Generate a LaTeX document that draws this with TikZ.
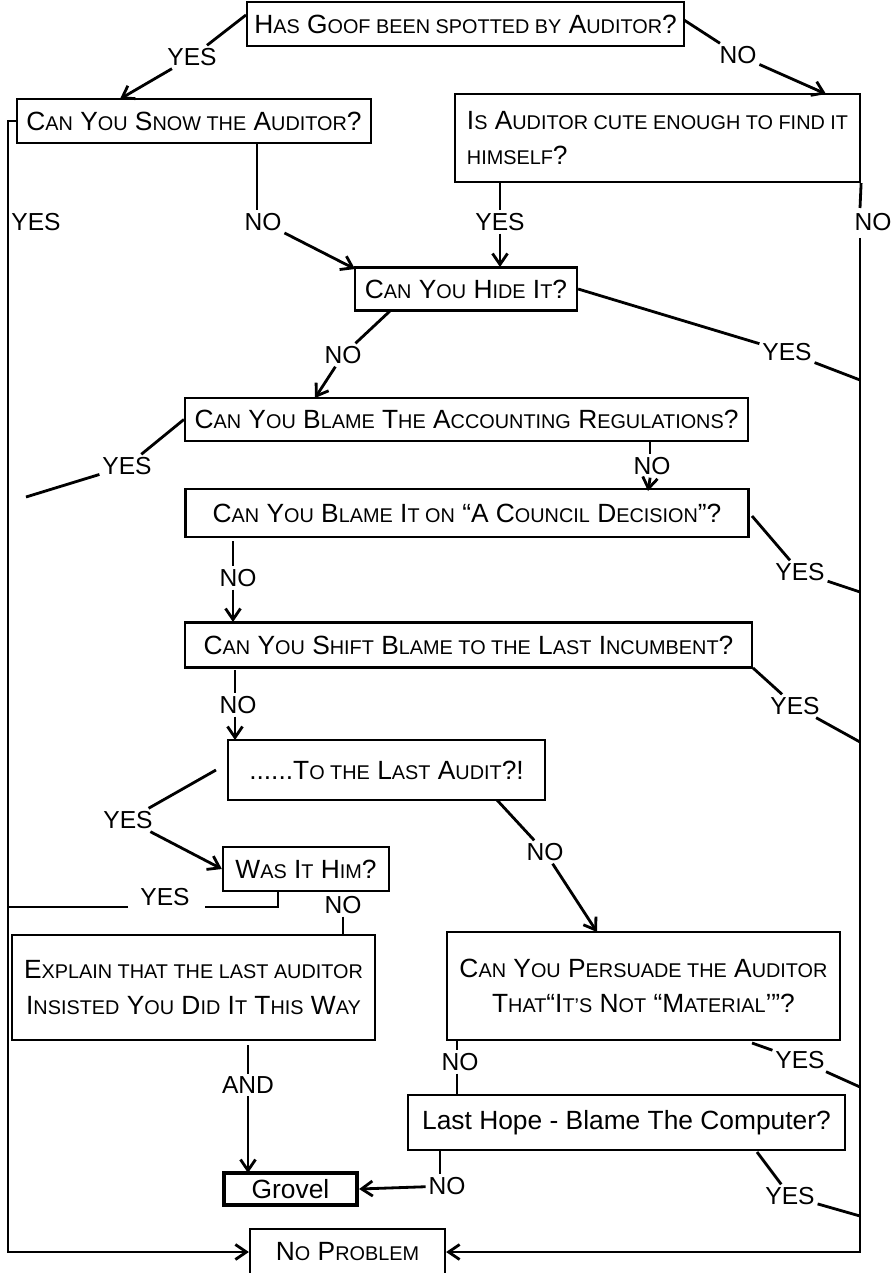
\documentclass[tikz,border=0pt]{standalone}
\usepackage{fontspec}
\setmainfont{Liberation Sans}
\usetikzlibrary{arrows.meta}
\newcommand\sm[1]{{\fontsize{11.3}{13}\selectfont #1}}
\tikzset{
box/.style={draw, line width=1.3pt, inner sep=0pt, align=center, font=\fontsize{15}{20}\selectfont},
lab/.style={inner sep=1.5pt, font=\fontsize{14}{16}\selectfont},
conn/.style={line width=1.6pt},
>={Straight Barb[length=2.2mm,width=3mm]}
}
\begin{document}
\begin{tikzpicture}[x=0.02cm,y=-0.02cm]
\useasboundingbox (0,0) rectangle (894,1273);

\node[box,minimum width=8.74cm,minimum height=0.88cm] (top) at (465.5,24) {H\sm{AS} G\sm{OOF BEEN SPOTTED BY} A\sm{UDITOR}?};
\node[box,minimum width=7.08cm,minimum height=0.88cm] (snow) at (194,121) {C\sm{AN} Y\sm{OU} S\sm{NOW THE} A\sm{UDITOR}?};
\node[box,align=left,minimum width=8.1cm,minimum height=1.76cm] (cute) at (657.5,138) {I\sm{S} A\sm{UDITOR CUTE ENOUGH TO FIND IT}\\\sm{HIMSELF}?};
\node[box,minimum width=4.44cm,minimum height=0.86cm] (hide) at (466,289) {C\sm{AN} Y\sm{OU} H\sm{IDE} I\sm{T}?};
\node[box,minimum width=11.26cm,minimum height=0.86cm] (acc) at (466.5,419.5) {C\sm{AN} Y\sm{OU} B\sm{LAME} T\sm{HE} A\sm{CCOUNTING} R\sm{EGULATIONS}?};
\node[box,minimum width=11.26cm,minimum height=0.96cm] (coun) at (467,513) {C\sm{AN} Y\sm{OU} B\sm{LAME} I\sm{T ON} “A C\sm{OUNCIL} D\sm{ECISION}”?};
\node[box,minimum width=11.34cm,minimum height=0.9cm] (shift) at (468.5,645) {C\sm{AN} Y\sm{OU} S\sm{HIFT} B\sm{LAME TO THE} L\sm{AST} I\sm{NCUMBENT}?};
\node[box,minimum width=6.34cm,minimum height=1.2cm] (audit) at (386.5,770) {......T\sm{O THE} L\sm{AST} A\sm{UDIT}?!};
\node[box,minimum width=3.32cm,minimum height=0.88cm] (him) at (306,869) {W\sm{AS} I\sm{T} H\sm{IM}?};
\node[box,minimum width=7.26cm,minimum height=2.1cm] (expl) at (193.5,987.5) {E\sm{XPLAIN THAT THE LAST AUDITOR}\\I\sm{NSISTED} Y\sm{OU} D\sm{ID} I\sm{T} T\sm{HIS} W\sm{AY}};
\node[box,minimum width=7.86cm,minimum height=2.16cm] (pers) at (643.5,986) {C\sm{AN} Y\sm{OU} P\sm{ERSUADE THE} A\sm{UDITOR}\\T\sm{HAT}“I\sm{T’S} N\sm{OT} “M\sm{ATERIAL}’”?};
\node[box,minimum width=8.74cm,minimum height=1.1cm] (hope) at (626.5,1122.5) {Last Hope - Blame The Computer?};
\node[box,line width=2.4pt,minimum width=2.66cm,minimum height=0.64cm] (grovel) at (290.5,1189) {Grovel};
\node[box,minimum width=3.9cm,minimum height=0.92cm] (noprob) at (347.5,1252) {N\sm{O} P\sm{ROBLEM}};

\node[lab] (yTop) at (192,57) {YES};
\node[lab] (nTop) at (738,55) {NO};
\node[lab] (ySnow) at (36,222) {YES};
\node[lab] (nSnow) at (263,222) {NO};
\node[lab] (yCute) at (500,222) {YES};
\node[lab] (nCute) at (873,222) {NO};
\node[lab] (yHide) at (787,352) {YES};
\node[lab] (nHide) at (343,355) {NO};
\node[lab] (yAcc) at (127,466) {YES};
\node[lab] (nAcc) at (652,466) {NO};
\node[lab] (yCoun) at (800,572) {YES};
\node[lab] (nCoun) at (238,578) {NO};
\node[lab] (yShift) at (795,706) {YES};
\node[lab] (nShift) at (238,705) {NO};
\node[lab] (yAud) at (128,820) {YES};
\node[lab] (nAud) at (545,852) {NO};
\node[lab] (yHim) at (165,897) {YES};
\node[lab] (nHim) at (343,905) {NO};
\node[lab] (andExp) at (248,1085) {AND};
\node[lab] (nPers) at (460,1062) {NO};
\node[lab] (yPers) at (800,1060) {YES};
\node[lab] (nHope) at (447,1186) {NO};
\node[lab] (yHope) at (790,1196) {YES};

\coordinate (p1) at (246,15);
\coordinate (p2) at (120,99);
\coordinate (p3) at (684,20);
\coordinate (p4) at (826,94);
\coordinate (p5) at (257,143);
\coordinate (p6) at (355,269);
\coordinate (p7) at (500,182);
\coordinate (p8) at (500,267);
\coordinate (p9) at (860,380);
\coordinate (p10) at (390,311);
\coordinate (p11) at (315,398);
\coordinate (p12) at (26,497);
\coordinate (p13) at (650,441);
\coordinate (p14) at (648,491);
\coordinate (p15) at (752,516);
\coordinate (p16) at (860,592);
\coordinate (p17) at (233,541);
\coordinate (p18) at (233,622);
\coordinate (p19) at (753,668);
\coordinate (p20) at (860,742);
\coordinate (p21) at (235,670);
\coordinate (p22) at (235,740);
\coordinate (p23) at (216,770);
\coordinate (p24) at (497,800);
\coordinate (p25) at (597,932);
\coordinate (p26) at (278,891);
\coordinate (p27) at (205,907);
\coordinate (p28) at (128,907);
\coordinate (p29) at (8,907);
\coordinate (p30) at (343,935);
\coordinate (p31) at (248,1045);
\coordinate (p32) at (248,1173);
\coordinate (p33) at (457,1040);
\coordinate (p34) at (457,1095);
\coordinate (p35) at (752,1043);
\coordinate (p36) at (860,1087);
\coordinate (p37) at (440,1150);
\coordinate (p38) at (757,1152);
\coordinate (p39) at (860,1216);
\coordinate (l2) at (8,121);
\coordinate (l3) at (8,1252);
\coordinate (r2) at (860,208);
\coordinate (r3) at (860,238);
\coordinate (r4) at (860,1252);

\draw[conn] (p1) -- (yTop);
\draw[conn,->] (yTop) -- (p2);
\draw[conn] (p3) -- (nTop);
\draw[conn,->] (nTop) -- (p4);
\draw[conn,->] (snow.west) -- (l2) -- (l3) -- (noprob.west);
\draw[conn] (p5) -- (p5 |- nSnow.north);
\draw[conn,->] (nSnow) -- (p6);
\draw[conn] (p7) -- (yCute);
\draw[conn,->] (yCute) -- (p8);
\draw[conn] (cute.south east) -- (r2);
\draw[conn,->] (r3) -- (r4) -- (noprob.east);
\draw[conn] (hide.east) -- (yHide) (yHide) -- (p9);
\draw[conn] (p10) -- (nHide);
\draw[conn,->] (nHide) -- (p11);
\draw[conn] (acc.west) -- (yAcc) (yAcc) -- (p12);
\draw[conn] (p13) -- (p13 |- nAcc.north);
\draw[conn,->] (nAcc) -- (p14);
\draw[conn] (p15) -- (yCoun) (yCoun) -- (p16);
\draw[conn] (p17) -- (p17 |- nCoun.north);
\draw[conn,->] (p17 |- nCoun.south) -- (p18);
\draw[conn] (p19) -- (yShift) (yShift) -- (p20);
\draw[conn] (p21) -- (p21 |- nShift.north);
\draw[conn,->] (p21 |- nShift.south) -- (p22);
\draw[conn] (p23) -- (yAud);
\draw[conn,->] (yAud) -- (him.west);
\draw[conn] (p24) -- (nAud);
\draw[conn,->] (nAud) -- (p25);
\draw[conn] (p26) |- (p27) (p28) -- (p29);
\draw[conn] (nHim) -- (p30);
\draw[conn] (p31) -- (andExp);
\draw[conn,->] (andExp) -- (p32);
\draw[conn] (p33) -- (p33 |- nPers.north) (p33 |- nPers.south) -- (p34);
\draw[conn] (p35) -- (yPers) (yPers) -- (p36);
\draw[conn] (p37) -- (p37 |- nHope.north);
\draw[conn,->] (nHope) -- (grovel.east);
\draw[conn] (p38) -- (yHope) (yHope) -- (p39);
\end{tikzpicture}
\end{document}
